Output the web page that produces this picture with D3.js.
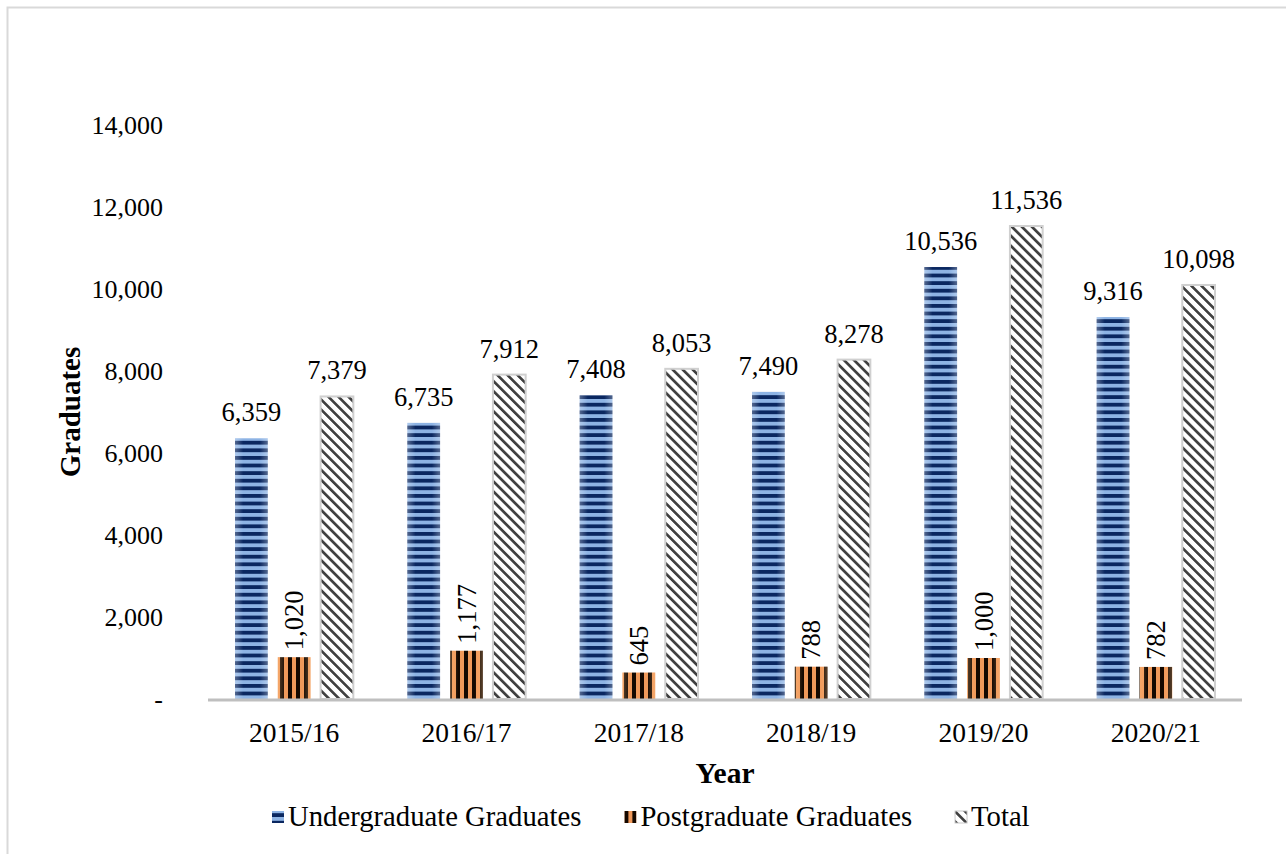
<!DOCTYPE html>
<html><head><meta charset="utf-8">
<script src="https://cdn.jsdelivr.net/npm/d3@7"></script>
<style>
html,body{margin:0;padding:0;background:#fff;}
</style></head>
<body><svg id="chart" width="1286" height="854" font-family="Liberation Serif, Times New Roman, serif"></svg>
<script>
const categories = ["2015/16","2016/17","2017/18","2018/19","2019/20","2020/21"];
const seriesNames = ["Undergraduate Graduates","Postgraduate Graduates","Total"];
const undergraduate = [6359, 6735, 7408, 7490, 10536, 9316];
const postgraduate = [1020, 1177, 645, 788, 1000, 782];
const total = [7379, 7912, 8053, 8278, 11536, 10098];
const yTicks = [0, 2000, 4000, 6000, 8000, 10000, 12000, 14000];

(function(){
const FF = "'Liberation Serif', 'Times New Roman', serif";
const svg = d3.select("#chart");
const W = 1286, H = 854;
svg.append("rect").attr("x",7.5).attr("y",7.5).attr("width",W).attr("height",H).attr("fill","#fff").attr("stroke","#d9d9d9").attr("stroke-width",2);

const defs = svg.append("defs");
const pu = defs.append("pattern").attr("id","pUG").attr("patternUnits","userSpaceOnUse").attr("width",10).attr("height",7.6);
pu.append("rect").attr("width",10).attr("height",7.6).attr("fill","#8db3e4");
pu.append("rect").attr("y",0).attr("width",10).attr("height",3.8).attr("fill","#0a2760");
const pp = defs.append("pattern").attr("id","pPG").attr("patternUnits","userSpaceOnUse").attr("width",8).attr("height",10);
pp.append("rect").attr("width",8).attr("height",10).attr("fill","#f0995a");
pp.append("rect").attr("x",0).attr("width",4).attr("height",10).attr("fill","#140800");
const pt = defs.append("pattern").attr("id","pT").attr("patternUnits","userSpaceOnUse").attr("width",7.1).attr("height",10).attr("patternTransform","rotate(-45)");
pt.append("rect").attr("width",7.1).attr("height",10).attr("fill","#fff");
pt.append("rect").attr("width",2.7).attr("height",10).attr("fill","#404040");
const gU = defs.append("linearGradient").attr("id","gU").attr("x1","0").attr("x2","1").attr("y1","0").attr("y2","0");
[[0,0.3],[0.25,0.0],[0.75,0.0],[1,0.3]].forEach(([o,a])=>gU.append("stop").attr("offset",o).attr("stop-color","#ffffff").attr("stop-opacity",a));
const gP = defs.append("linearGradient").attr("id","gP").attr("x1","0").attr("x2","1").attr("y1","0").attr("y2","0");
[[0,0.3],[0.25,0.0],[0.75,0.0],[1,0.3]].forEach(([o,a])=>gP.append("stop").attr("offset",o).attr("stop-color","#ffc890").attr("stop-opacity",a));

const pLeft = 208, pRight = 1242, pTop = 125, pBottom = 699;
const x0 = d3.scaleBand().domain(categories).range([pLeft, pRight]).paddingInner(0).paddingOuter(0);
const inner = d3.scaleBand().domain(seriesNames).range([27, x0.bandwidth()-27]).paddingInner(0.235).paddingOuter(0);
const y = d3.scaleLinear().domain([0, 14000]).range([pBottom, pTop]);

const data = categories.map((c,i)=>({cat:c, vals:[undergraduate[i], postgraduate[i], total[i]]}));
const fills = ["url(#pUG)","url(#pPG)","url(#pT)"];
const overlays = ["url(#gU)","url(#gP)",null];

const g = svg.append("g");
data.forEach(d=>{
  d.vals.forEach((v,k)=>{
    const bx = x0(d.cat)+inner(seriesNames[k]);
    const bw = inner.bandwidth();
    g.append("rect").attr("x",bx).attr("y",y(v)).attr("width",bw).attr("height",pBottom-y(v))
      .attr("fill",fills[k]).attr("stroke",k===2?"#d0d0d0":"none").attr("stroke-width",k===2?2:0);
    if(overlays[k]) g.append("rect").attr("x",bx).attr("y",y(v)).attr("width",bw).attr("height",pBottom-y(v)).attr("fill",overlays[k]);
    if(k===1){
      g.append("text").attr("transform",`translate(${bx+bw/2+9},${y(v)-7}) rotate(-90)`)
        .attr("text-anchor","start").attr("font-size",26.5).attr("font-family",FF).text(d3.format(",")(v));
    } else {
      g.append("text").attr("x",bx+bw/2).attr("y",y(v)-17).attr("text-anchor","middle").attr("font-size",26.5).attr("font-family",FF).text(d3.format(",")(v));
    }
  });
});

svg.append("line").attr("x1",pLeft).attr("x2",pRight).attr("y1",pBottom+1).attr("y2",pBottom+1).attr("stroke","#bfbfbf").attr("stroke-width",3);
const xAxis = svg.append("g").attr("transform",`translate(0,${pBottom})`).call(d3.axisBottom(x0).tickSize(0).tickPadding(23));
xAxis.select(".domain").remove();
xAxis.selectAll("text").attr("font-size",27.5).attr("font-family",FF).attr("fill","#000").attr("dy","0.71em");

const yAxis = svg.append("g").attr("transform",`translate(${pLeft},0)`).call(d3.axisLeft(y).tickValues(yTicks).tickSize(0).tickPadding(45).tickFormat(v=>v===0?"-":d3.format(",")(v)));
yAxis.select(".domain").remove();
yAxis.selectAll("text").attr("font-size",26).attr("font-family",FF).attr("fill","#000");

svg.append("text").attr("transform",`translate(80,${(pTop+pBottom)/2}) rotate(-90)`).attr("text-anchor","middle").attr("font-size",29).attr("font-weight","bold").attr("font-family",FF).text("Graduates");
svg.append("text").attr("x",(pLeft+pRight)/2).attr("y",783).attr("text-anchor","middle").attr("font-size",29.5).attr("font-weight","bold").attr("font-family",FF).text("Year");

const leg = svg.append("g");
let lx = 272;
seriesNames.forEach((n,k)=>{
  const it = leg.append("g").attr("transform",`translate(${lx},0)`);
  it.append("rect").attr("x",0).attr("y",811).attr("width",12).attr("height",12).attr("fill",fills[k]).attr("stroke",k===2?"#c8c8c8":"none");
  const t = it.append("text").attr("x",16).attr("y",826).attr("font-size",28.7).attr("font-family",FF).text(n);
  lx += 16 + t.node().getComputedTextLength() + 43;
});
})();
</script></body></html>
